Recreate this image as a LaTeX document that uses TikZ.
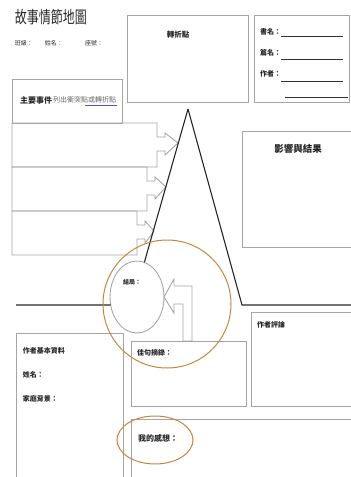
\documentclass[tikz,border=0pt]{standalone}
\usepackage{fontspec}
\setmainfont{Noto Sans CJK TC}
\usetikzlibrary{shapes.geometric,positioning}

\definecolor{boxgray}{RGB}{165,165,165}
\definecolor{ringorange}{RGB}{196,134,62}
\definecolor{linkblue}{RGB}{80,80,220}

\begin{document}
\begin{tikzpicture}[x=1pt, y=-1pt, line join=miter]
\tikzstyle{every node} = [inner sep=0pt, outer sep=0pt, text=black!85]
\tikzset{box/.style={draw=boxgray, line width=0.9pt},
  plot/.style={draw=black!85, line width=1.1pt},
  ring/.style={draw=ringorange, line width=1pt},
  lbl/.style={anchor=west, font=\fontsize{7}{7}\selectfont\bfseries}}
\useasboundingbox (0,0) rectangle (351,477);
\clip (0,0) rectangle (351,477);

% header
\node[anchor=west, font=\fontsize{12}{12}\selectfont] (title) at (15,17) {\scalebox{1}[1.4]{故事情節地圖}};
\node[lbl, font=\fontsize{6}{6}\selectfont] (klass) at (15,43) {班級：};
\node[lbl, font=\fontsize{6}{6}\selectfont] (name) at (45,43) {姓名：};
\node[lbl, font=\fontsize{6}{6}\selectfont] (seat) at (85,43) {座號：};

% top boxes
\draw[box] (127,15) rectangle (248,102);
\node[font=\fontsize{7.5}{7.5}\selectfont\bfseries] (turn) at (178,35) {轉折點};
\draw[box] (254,15) rectangle (349,102);
\node[lbl] (book) at (260,32) {書名：};
\node[lbl] (piece) at (260,53) {篇名：};
\node[lbl] (writer) at (260,74) {作者：};
\foreach \y/\a/\b in {36/281/343, 59/281/343, 81/281/343, 97/285/348}
  \draw[black!80, line width=0.7pt] (\a,\y) -- (\b,\y);

% main events
\draw[box] (12,79) rectangle (122,123);
\node[lbl, font=\fontsize{8}{8}\selectfont\bfseries] (events) at (20,100) {主要事件};
\node[anchor=west, font=\fontsize{7}{7}\selectfont, text=black!60] (hint) at (53,100) {列出衝突點或轉折點};
\draw[linkblue, line width=0.6pt] (85,105) -- (117,105);
\foreach \t/\r/\tx in {123/157/178, 167/147/166, 211/137/154}
  \draw[box] (12,\t) -- (\r,\t) -- (\r,\t+14) -- (\r+8,\t+14) -- (\r+8,\t+10)
    -- (\tx,\t+20) -- (\r+8,\t+32) -- (\r+8,\t+28) -- (\r,\t+28) -- (\r,\t+44)
    -- (12,\t+44) -- cycle;

% result
\draw[box] (242,131) rectangle (355,247);
\node[font=\fontsize{9.5}{9.5}\selectfont\bfseries] (result) at (298,149) {影響與結果};

% plot line
\coordinate (apex) at (188,109);
\coordinate (lstart) at (16,305);
\coordinate (rfoot) at (242,305);
\coordinate (rend) at (351,305);
\node[ellipse, draw=boxgray, line width=0.9pt, minimum width=54, minimum height=72] (ending) at (137,297) {};
\node[lbl, font=\fontsize{6}{6}\selectfont\bfseries] (endtxt) at (123,282) {結局：};
\draw[plot] (apex) -- (ending.78);
\draw[plot] (apex) -- (rfoot) -- (rend);
\draw[plot] (lstart) -- (ending.197);

% lower boxes
\draw[box] (16,333) rectangle (123,480);
\node[lbl] (bio) at (23,351) {作者基本資料};
\node[lbl] (bioname) at (23,375) {姓名：};
\node[lbl] (family) at (23,399) {家庭背景：};
\draw[box] (131,341) rectangle (246,406);
\node[lbl] (quote) at (137,353) {佳句摘錄：};
\draw[box] (251,312) rectangle (355,406);
\node[lbl] (comment) at (257,325) {作者評論};
\draw[box] (131,419) rectangle (355,480);
\node[lbl, font=\fontsize{8}{8}\selectfont\bfseries] (feeling) at (138,438) {我的感想：};

% arrow into the ending
\draw[box] (ending.east) -- (174,279) -- (174,286) -- (192,286) -- (192,341)
  -- (183,341) -- (183,304) -- (174,304) -- (174,313) -- cycle;

% rings
\draw[ring] (167,304) circle[radius=64];
\draw[ring] (155,440) ellipse[x radius=38, y radius=24];
\end{tikzpicture}
\end{document}
